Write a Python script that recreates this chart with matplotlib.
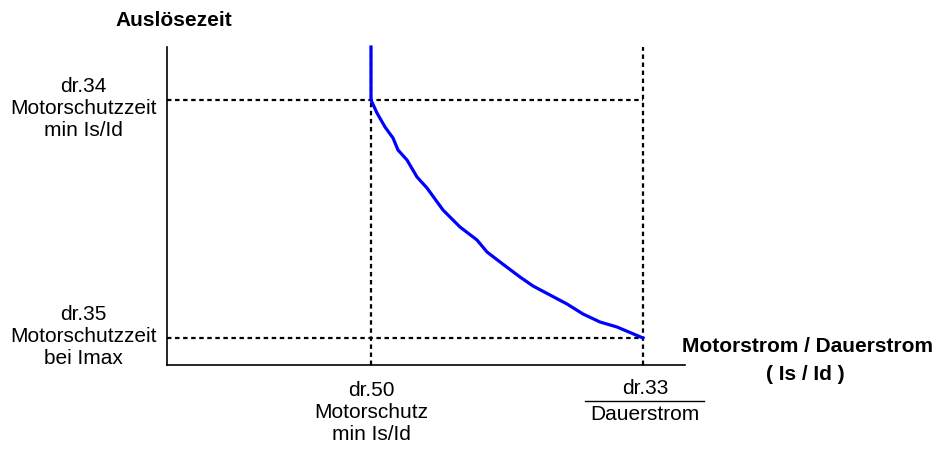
import numpy as np
import matplotlib.pyplot as plt

plt.rcParams['font.family'] = ['Liberation Sans', 'DejaVu Sans']
plt.rcParams['lines.scale_dashes'] = False

# Auslösekennlinie (relative Einheiten, Achsen ohne Zahlenwerte)
strom = [204, 204, 210, 218, 226, 231, 240, 250, 260, 276, 293, 310, 320,
         337, 353, 366, 383, 400, 416, 433, 450, 476]
zeit = [318, 265, 252, 238, 227, 215, 205, 188, 177, 155, 138, 125, 113,
        100, 88, 79, 70, 61, 51, 43, 38, 27]

x_dr50 = 204   # Motorschutz min Is/Id
x_dr33 = 476   # Dauerstrom
y_dr34 = 265   # Motorschutzzeit min Is/Id
y_dr35 = 27    # Motorschutzzeit bei Imax
x_max, y_max = 518, 318

W, H = 934, 451
fig = plt.figure(figsize=(W / 100, H / 100), dpi=100)
ax = fig.add_axes([167 / W, (H - 365) / H, x_max / W, y_max / H])
ax.set_xlim(0, x_max)
ax.set_ylim(0, y_max)
for s in ['top', 'right']:
    ax.spines[s].set_visible(False)
for s in ['left', 'bottom']:
    ax.spines[s].set_linewidth(1.2)
ax.set_xticks([])
ax.set_yticks([])

dash = dict(color='black', lw=1.6, dashes=(3.2, 2.6))
ax.plot([0, x_dr33], [y_dr34, y_dr34], **dash)
ax.plot([0, x_dr33], [y_dr35, y_dr35], **dash)
ax.plot([x_dr50, x_dr50], [0, y_max], **dash)
ax.plot([x_dr33, x_dr33], [0, y_max], **dash)

ax.plot(strom, zeit, color='#0000ff', lw=2.3, clip_on=False,
        solid_joinstyle='round')


def px(x, y):
    return x / W, 1 - y / H


fs = 15
fig.text(*px(174, 20), 'Auslösezeit', fontsize=fs, fontweight='bold',
         ha='center', va='center')
fig.text(*px(83, 109), 'dr.34\nMotorschutzzeit\nmin Is/Id', fontsize=fs,
         ha='center', va='center', linespacing=1.2)
fig.text(*px(83, 337), 'dr.35\nMotorschutzzeit\nbei Imax', fontsize=fs,
         ha='center', va='center', linespacing=1.2)
fig.text(*px(371, 412), 'dr.50\nMotorschutz\nmin Is/Id', fontsize=fs,
         ha='center', va='center', linespacing=1.2)
fig.text(*px(645, 389), 'dr.33', fontsize=fs, ha='center', va='center')
fig.text(*px(645, 415), 'Dauerstrom', fontsize=fs, ha='center', va='center')
fig.add_artist(plt.Line2D([585 / W, 704 / W], [1 - 401 / H, 1 - 401 / H],
                          color='black', lw=1.0))
fig.text(*px(808, 346), 'Motorstrom / Dauerstrom', fontsize=fs,
         fontweight='bold', ha='center', va='center')
fig.text(*px(805, 374), '( Is / Id )', fontsize=fs, fontweight='bold',
         ha='center', va='center')

fig.savefig('out.png', dpi=100)
